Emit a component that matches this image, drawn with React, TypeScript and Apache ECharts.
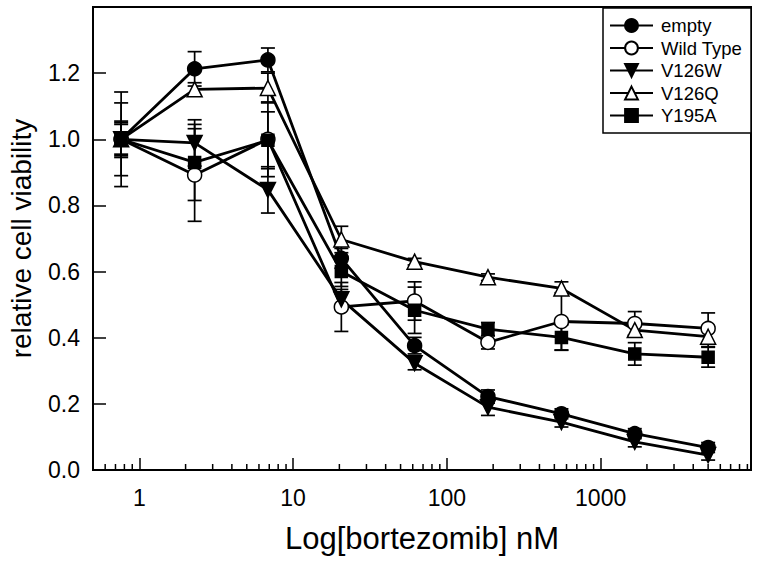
import React, { useEffect, useRef } from "react";
import * as echarts from "echarts";

const conc = [0.762, 2.29, 6.86, 20.6, 61.7, 185, 556, 1667, 5000];

const emptyVals = [1.0, 1.213, 1.24, 0.64, 0.376, 0.222, 0.17, 0.11, 0.068];
const emptyErr = [0.045, 0.052, 0.036, 0.03, 0.025, 0.02, 0.015, 0.015, 0.015];
const wtVals = [1.0, 0.892, 1.0, 0.493, 0.511, 0.386, 0.449, 0.443, 0.428];
const wtErr = [0.143, 0.14, 0.113, 0.074, 0.058, 0.02, 0.087, 0.036, 0.047];
const v126wVals = [1.0, 0.989, 0.847, 0.516, 0.323, 0.19, 0.145, 0.085, 0.045];
const v126wErr = [0.055, 0.07, 0.07, 0.03, 0.02, 0.025, 0.015, 0.015, 0.015];
const v126qVals = [1.0, 1.151, 1.155, 0.697, 0.63, 0.583, 0.549, 0.423, 0.403];
const v126qErr = [0.11, 0.02, 0.045, 0.04, 0.01, 0.01, 0.02, 0.015, 0.03];
const y195aVals = [1.0, 0.93, 0.997, 0.6, 0.483, 0.426, 0.401, 0.351, 0.341];
const y195aErr = [0.05, 0.115, 0.086, 0.045, 0.07, 0.02, 0.038, 0.034, 0.03];

const seriesNames = ["empty", "Wild Type", "V126W", "V126Q", "Y195A"];
const xMajorLabels = [1, 10, 100, 1000];
const minorMultipliers = [2, 3, 4, 5, 6, 7, 8, 9];
const minorDecades = [0.1, 1, 10, 100, 1000];
const X_MIN = 0.5;
const X_MAX = 9500;

const minorTicks: number[] = [];
minorDecades.forEach((d) =>
  minorMultipliers.forEach((m) => {
    const v = d * m;
    if (v > X_MIN && v < X_MAX) minorTicks.push(v);
  })
);

const FONT = "'Liberation Sans', Arial, sans-serif";

export default function App() {
  const ref = useRef<HTMLDivElement>(null);
  useEffect(() => {
    if (!ref.current) return;
    const chart = echarts.init(ref.current, undefined, { renderer: "svg" });

    const groups = [
      { name: "empty", vals: emptyVals, err: emptyErr, symbol: "circle", size: 14, fill: "#000", rotate: 0 },
      { name: "Wild Type", vals: wtVals, err: wtErr, symbol: "circle", size: 14, fill: "#fff", rotate: 0 },
      { name: "V126W", vals: v126wVals, err: v126wErr, symbol: "triangle", size: 15, fill: "#000", rotate: 180 },
      { name: "V126Q", vals: v126qVals, err: v126qErr, symbol: "triangle", size: 15, fill: "#fff", rotate: 0 },
      { name: "Y195A", vals: y195aVals, err: y195aErr, symbol: "rect", size: 12, fill: "#000", rotate: 0 },
    ];

    const errSeries = groups.map((g) => ({
      type: "custom",
      name: g.name + " err",
      z: 1,
      encode: { x: 0, y: [1, 2] },
      data: conc.map((c, i) => [c, g.vals[i] - g.err[i], g.vals[i] + g.err[i]]),
      renderItem: (params: any, api: any) => {
        const x = api.value(0);
        const pLo = api.coord([x, api.value(1)]);
        const pHi = api.coord([x, api.value(2)]);
        const w = 7;
        const st = { stroke: "#000", lineWidth: 1.7 };
        return {
          type: "group",
          children: [
            { type: "line", shape: { x1: pLo[0], y1: pLo[1], x2: pHi[0], y2: pHi[1] }, style: st },
            { type: "line", shape: { x1: pLo[0] - w, y1: pLo[1], x2: pLo[0] + w, y2: pLo[1] }, style: st },
            { type: "line", shape: { x1: pHi[0] - w, y1: pHi[1], x2: pHi[0] + w, y2: pHi[1] }, style: st },
          ],
        };
      },
    }));

    const lineSeries = groups.map((g) => ({
      type: "line",
      name: g.name,
      z: 3,
      data: conc.map((c, i) => [c, g.vals[i]]),
      symbol: g.symbol,
      symbolSize: g.size,
      symbolRotate: g.rotate,
      showAllSymbol: true,
      lineStyle: { color: "#000", width: 2.8 },
      itemStyle: { color: g.fill, borderColor: "#000", borderWidth: 1.5, opacity: 1 },
      emphasis: { disabled: true },
    }));

    const minorSeries = {
      type: "custom",
      name: "minor",
      z: 4,
      silent: true,
      data: minorTicks.map((v) => [v, 0]),
      renderItem: (params: any, api: any) => {
        const p = api.coord([api.value(0), 0]);
        return {
          type: "line",
          shape: { x1: p[0], y1: p[1], x2: p[0], y2: p[1] - 6 },
          style: { stroke: "#000", lineWidth: 1.5 },
        };
      },
    };

    chart.setOption({
      animation: false,
      backgroundColor: "#fff",
      textStyle: { fontFamily: FONT },
      grid: {
        left: 93,
        right: 11,
        top: 7,
        bottom: 93,
        show: true,
        borderColor: "#000",
        borderWidth: 2,
        containLabel: false,
        outerBoundsMode: "none",
      },
      xAxis: {
        type: "log",
        logBase: 10,
        min: X_MIN,
        max: X_MAX,
        name: "Log[bortezomib] nM",
        nameLocation: "middle",
        nameGap: 53,
        nameTextStyle: { fontSize: 31, color: "#000", fontFamily: FONT },
        axisLine: { lineStyle: { color: "#000", width: 2 } },
        axisTick: { inside: true, length: 12, lineStyle: { color: "#000", width: 1.5 } },
        axisLabel: {
          fontSize: 23,
          color: "#000",
          margin: 16,
          fontFamily: FONT,
          showMinLabel: false,
          showMaxLabel: false,
          formatter: (v: number) => {
            const hit = xMajorLabels.find((m) => Math.abs(m - v) / m < 1e-6);
            return hit !== undefined ? String(hit) : "";
          },
        },
        splitLine: { show: false },
      },
      yAxis: {
        type: "value",
        min: 0,
        max: 1.4,
        interval: 0.2,
        name: "relative cell viability",
        nameLocation: "middle",
        nameGap: 58,
        nameTextStyle: { fontSize: 28, color: "#000", fontFamily: FONT },
        axisLine: { show: true, lineStyle: { color: "#000", width: 2 } },
        axisTick: { show: true, inside: true, length: 13, lineStyle: { color: "#000", width: 1.5 } },
        axisLabel: {
          fontSize: 23,
          color: "#000",
          margin: 13,
          fontFamily: FONT,
          showMaxLabel: false,
          formatter: (v: number) => v.toFixed(1),
        },
        splitLine: { show: false },
      },
      legend: {
        data: seriesNames,
        orient: "vertical",
        left: 609,
        top: 16,
        padding: 0,
        itemWidth: 43,
        itemHeight: 16,
        itemGap: 3.5,
        z: 10,
        textStyle: { fontSize: 18.5, color: "#000", fontFamily: FONT, padding: [0, 0, 0, 3] },
        selectedMode: false,
      },
      graphic: [
        {
          type: "rect",
          z: 5,
          shape: { x: 603, y: 8, width: 148, height: 125 },
          style: { fill: "#fff", stroke: "#000", lineWidth: 1.5 },
        },
      ],
      series: [...errSeries, ...lineSeries, minorSeries],
    });
    return () => chart.dispose();
  }, []);
  return <div ref={ref} style={{ width: 762, height: 563, position: "absolute", left: 0, top: 0 }} />;
}
